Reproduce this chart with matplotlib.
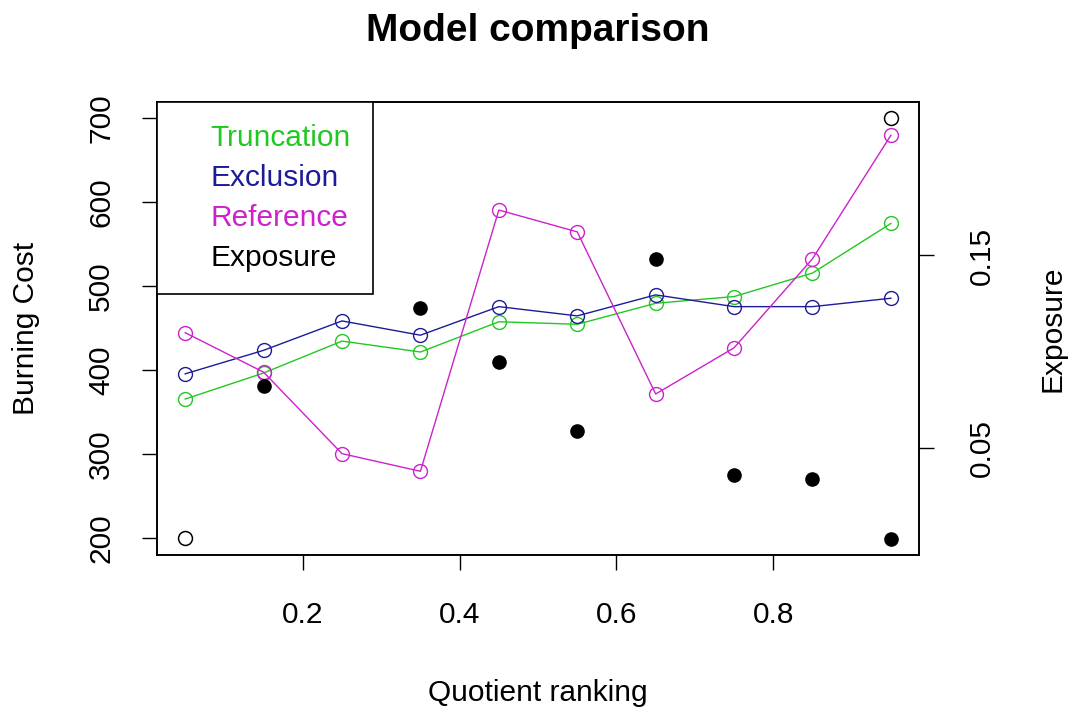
import matplotlib
matplotlib.use("Agg")
import matplotlib.pyplot as plt
from matplotlib.lines import Line2D

plt.rcParams['font.family'] = ['Liberation Sans', 'DejaVu Sans']

# data
ranking = [0.05, 0.15, 0.25, 0.35, 0.45, 0.55, 0.65, 0.75, 0.85, 0.95]
truncation = [366, 397, 435, 422, 458, 455, 480, 488, 516, 575]
exclusion = [396, 424, 459, 442, 476, 465, 490, 476, 476, 486]
reference = [445, 398, 301, 280, 591, 565, 372, 427, 533, 680]

exp_rank = [0.15, 0.35, 0.45, 0.55, 0.65, 0.75, 0.85, 0.95]
exposure = [0.0823, 0.1224, 0.0948, 0.0589, 0.1484, 0.0359, 0.0339, 0.0026]

frame_x = [0.05, 0.95]
frame_y = [200, 700]

green = "#22c822"
blue = "#1c1c98"
magenta = "#cc22cc"
fs = 21.5

fig = plt.figure(figsize=(10.75, 7.11), dpi=100)
ax = fig.add_axes([0.146, 0.219, 0.709, 0.638])

ax.plot(frame_x, frame_y, 'o', mfc='none', mec='black', ms=10, mew=1.1)
ax.plot(ranking, truncation, '-o', color=green, mfc='none', ms=10, lw=1.0, mew=1.0)
ax.plot(ranking, exclusion, '-o', color=blue, mfc='none', ms=10, lw=1.0, mew=1.0)
ax.plot(ranking, reference, '-o', color=magenta, mfc='none', ms=10, lw=1.0, mew=1.0)

ax.set_xlim(0.014, 0.986)
ax.set_ylim(180, 720)
ax.set_xticks([0.2, 0.4, 0.6, 0.8])
ax.set_yticks([200, 300, 400, 500, 600, 700])
ax.tick_params(axis='x', length=11, width=1.0, labelsize=fs, pad=22)
ax.tick_params(axis='y', length=11, width=1.0, labelsize=fs, pad=19)
for lab in ax.get_yticklabels():
    lab.set_rotation(90)
    lab.set_va('center')
ax.set_xlabel("Quotient ranking", fontsize=fs, labelpad=36)
ax.set_ylabel("Burning Cost", fontsize=fs, labelpad=34)
ax.set_title("Model comparison", fontsize=28, fontweight='bold', pad=44)
for s in ax.spines.values():
    s.set_linewidth(1.2)

ax2 = ax.twinx()
ax2.plot(exp_rank, exposure, 'o', color='black', ms=9.5)
ax2.set_ylim(-0.006, 0.230)
ax2.set_yticks([0.05, 0.15])
ax2.tick_params(axis='y', length=11, width=1.0, labelsize=fs, pad=24)
for lab in ax2.get_yticklabels():
    lab.set_rotation(90)
    lab.set_va('center')
ax2.set_ylabel("Exposure", fontsize=fs, labelpad=31)
for s in ax2.spines.values():
    s.set_linewidth(1.2)

names = ["Truncation", "Exclusion", "Reference", "Exposure"]
handles = [Line2D([], [], linestyle='none') for _ in names]
leg = ax2.legend(handles, names, loc='upper left', bbox_to_anchor=(0, 1),
                 borderaxespad=0, fontsize=fs, fancybox=False, framealpha=1,
                 edgecolor='black', handlelength=0.5, handletextpad=0.55,
                 borderpad=0.75, labelspacing=0.4,
                 labelcolor=[green, blue, magenta, 'black'])
leg.get_frame().set_linewidth(1.2)

fig.savefig("out.png", dpi=100, facecolor='white')
